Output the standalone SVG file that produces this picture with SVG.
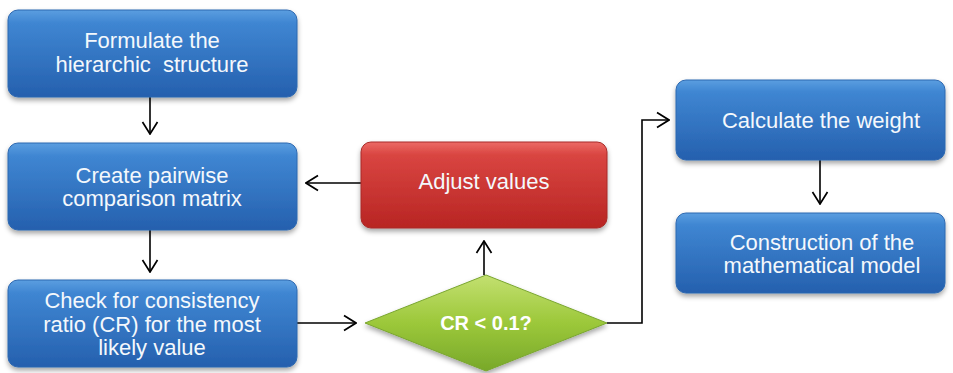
<svg xmlns="http://www.w3.org/2000/svg" width="953" height="373" viewBox="0 0 953 373">
<defs>
<linearGradient id="gBlue" x1="0" y1="0" x2="0" y2="1">
<stop offset="0" stop-color="#5b9ee0"/>
<stop offset="0.15" stop-color="#3f86d2"/>
<stop offset="1" stop-color="#2560ae"/>
</linearGradient>
<linearGradient id="gRed" x1="0" y1="0" x2="0" y2="1">
<stop offset="0" stop-color="#ec6a66"/>
<stop offset="0.15" stop-color="#d94541"/>
<stop offset="1" stop-color="#b82523"/>
</linearGradient>
<linearGradient id="gGreen" x1="0" y1="0" x2="0" y2="1">
<stop offset="0" stop-color="#c3e070"/>
<stop offset="0.5" stop-color="#9cc83a"/>
<stop offset="1" stop-color="#78a82a"/>
</linearGradient>
<filter id="sh" x="-10%" y="-10%" width="120%" height="130%">
<feDropShadow dx="0" dy="3" stdDeviation="2.5" flood-color="#000" flood-opacity="0.35"/>
</filter>
<marker id="arr" viewBox="0 0 14 18" refX="13" refY="9" markerWidth="14" markerHeight="18" markerUnits="userSpaceOnUse" orient="auto">
<path d="M1,1.5 L13,9 L1,16.5" fill="none" stroke="#000" stroke-width="1.7"/>
</marker>
<style>
.blue{fill:url(#gBlue);stroke:#2d68b0;stroke-width:1;filter:url(#sh)}
.red{fill:url(#gRed);stroke:#a82a28;stroke-width:1;filter:url(#sh)}
.green{fill:url(#gGreen);stroke:#7aa630;stroke-width:1;filter:url(#sh)}
.t{font-family:"Liberation Sans",Arial,sans-serif;font-size:22px;fill:#f4f8fc;text-anchor:middle}
.tb{font-family:"Liberation Sans",Arial,sans-serif;font-size:20px;font-weight:bold;fill:#fff;text-anchor:middle}
.c{fill:none;stroke:#000;stroke-width:1.6;marker-end:url(#arr)}
</style>
</defs>
<rect width="953" height="373" fill="#fff"/>
<g id="connectors">
<path class="c" d="M150,97 V134"/>
<path class="c" d="M150,230 V272"/>
<path class="c" d="M361,183 H306"/>
<path class="c" d="M484,275 V241"/>
<path class="c" d="M297,323 H356"/>
<path class="c" d="M607,323 H642 V120 H669"/>
<path class="c" d="M820,160 V204"/>
</g>
<g id="formulate">
<rect class="blue" x="8" y="10" width="289" height="87" rx="10"/>
<text class="t" x="152" y="48">Formulate the</text>
<text class="t" x="152" y="72" xml:space="preserve">hierarchic  structure</text>
</g>
<g id="pairwise">
<rect class="blue" x="8" y="143" width="289" height="87" rx="10"/>
<text class="t" x="152" y="183">Create pairwise</text>
<text class="t" x="152" y="206">comparison matrix</text>
</g>
<g id="check">
<rect class="blue" x="8" y="280" width="289" height="87" rx="10"/>
<text class="t" x="152" y="308">Check for consistency</text>
<text class="t" x="152" y="332">ratio (CR) for the most</text>
<text class="t" x="152" y="355">likely value</text>
</g>
<g id="adjust">
<rect class="red" x="361" y="142" width="246" height="86" rx="10"/>
<text class="t" x="484" y="189">Adjust values</text>
</g>
<g id="decision">
<polygon class="green" points="486,275 607,323 486,371 365,323"/>
<text class="tb" x="486" y="330">CR &lt; 0.1?</text>
</g>
<g id="weight">
<rect class="blue" x="676" y="80" width="269" height="80" rx="10"/>
<text class="t" x="821" y="128">Calculate the weight</text>
</g>
<g id="model">
<rect class="blue" x="676" y="213" width="269" height="80" rx="10"/>
<text class="t" x="822" y="250">Construction of the</text>
<text class="t" x="822" y="273">mathematical model</text>
</g>
</svg>
